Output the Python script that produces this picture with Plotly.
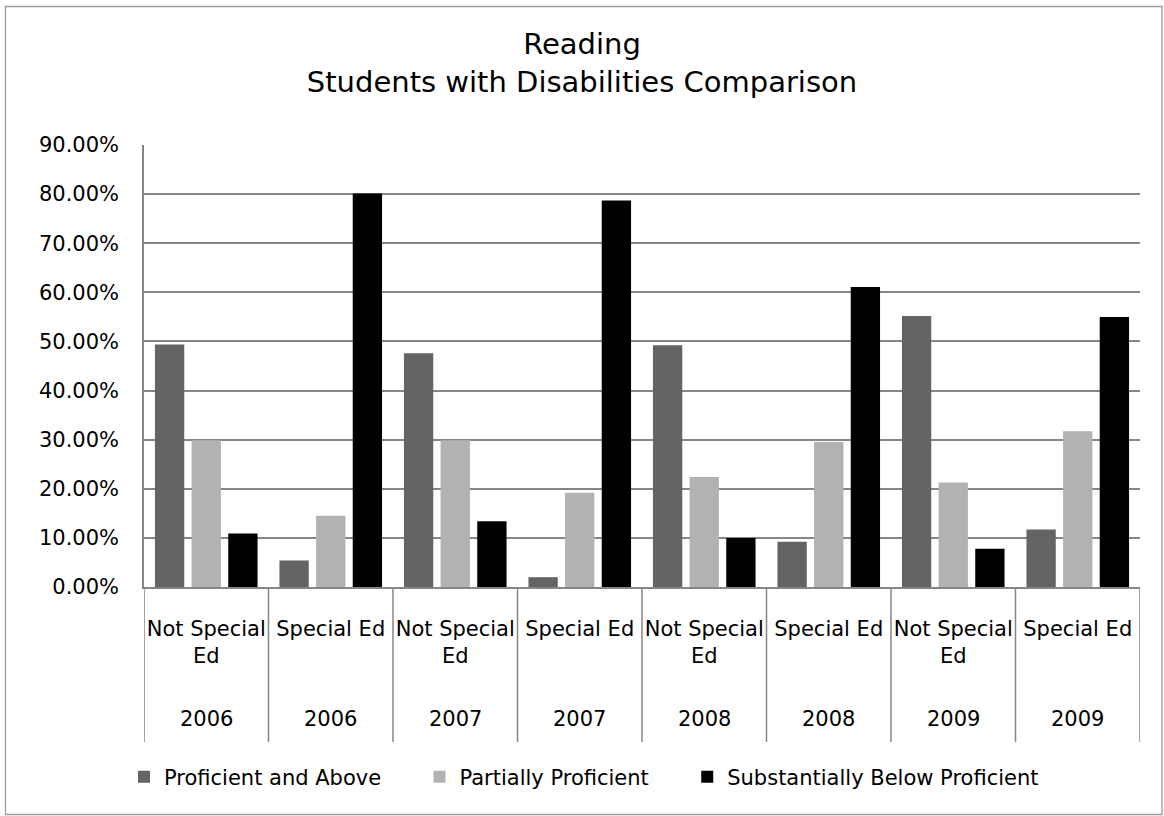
import plotly.graph_objects as go

# ---- data ----
groups = ["Not Special Ed", "Special Ed", "Not Special Ed", "Special Ed",
          "Not Special Ed", "Special Ed", "Not Special Ed", "Special Ed"]
group_labels = ["Not Special<br>Ed", "Special Ed", "Not Special<br>Ed", "Special Ed",
                "Not Special<br>Ed", "Special Ed", "Not Special<br>Ed", "Special Ed"]
years = ["2006", "2006", "2007", "2007", "2008", "2008", "2009", "2009"]

series_names = ["Proficient and Above", "Partially Proficient", "Substantially Below Proficient"]
proficient = [0.494, 0.054, 0.476, 0.020, 0.492, 0.092, 0.552, 0.117]
partial = [0.299, 0.145, 0.299, 0.192, 0.224, 0.295, 0.213, 0.317]
below = [0.109, 0.801, 0.134, 0.787, 0.100, 0.611, 0.078, 0.550]
series_values = [proficient, partial, below]
series_colors = ["#646464", "#b2b2b2", "#000000"]
legend_pad = [5, 5, 0]  # extra legend spacing (non-breaking spaces after the label)

y_ticks = [0, 0.1, 0.2, 0.3, 0.4, 0.5, 0.6, 0.7, 0.8, 0.9]

FONT = "DejaVu Sans"
idx = list(range(len(groups)))

fig = go.Figure()
for name, vals, col, pad in zip(series_names, series_values, series_colors, legend_pad):
    fig.add_trace(go.Bar(x=idx, y=vals, name=name + "\u00a0" * pad,
                         marker=dict(color=col, line=dict(width=0))))

W, H = 1164, 816
L, R, T, B = 144, 24, 145, 229
pw, ph = W - L - R, H - T - B

def px_x(p):
    return (p - L) / pw

def px_y(p):
    return (H - B - p) / ph

GRID = "#868686"
shapes = []
# category separators below the axis
for i in range(len(groups) + 1):
    shapes.append(dict(type="line", xref="x", yref="paper", x0=i - 0.5, x1=i - 0.5,
                       y0=0, y1=px_y(742), line=dict(color=GRID, width=1.5)))
# outer chart border
shapes.append(dict(type="rect", xref="paper", yref="paper",
                   x0=px_x(5.5), x1=px_x(1162), y0=px_y(6.5), y1=px_y(814.5),
                   line=dict(color="#9a9a9a", width=1.3), fillcolor="rgba(0,0,0,0)"))

annotations = []
for i, yr in enumerate(years):
    annotations.append(dict(x=i, y=px_y(719), xref="x", yref="paper", text=yr,
                            showarrow=False, font=dict(family=FONT, size=21, color="#000"),
                            xanchor="center", yanchor="middle"))

fig.update_layout(
    width=W, height=H,
    margin=dict(l=L, r=R, t=T, b=B),
    paper_bgcolor="white", plot_bgcolor="white",
    barmode="group", bargap=0.117, bargroupgap=0.2,
    title=dict(text="Reading<br>Students with Disabilities Comparison",
               x=0.5, xref="container", xanchor="center",
               y=1 - 54 / H, yref="container", yanchor="middle",
               font=dict(family=FONT, size=29, color="#000")),
    font=dict(family=FONT, size=21, color="#000"),
    xaxis=dict(range=[-0.5, len(groups) - 0.5], tickmode="array", tickvals=idx,
               ticktext=group_labels, showgrid=False, zeroline=False,
               showline=True, linecolor=GRID, linewidth=1.5,
               ticks="", ticklabelstandoff=22,
               tickfont=dict(family=FONT, size=21, color="#000")),
    yaxis=dict(range=[0, 0.9], tickmode="array", tickvals=y_ticks, tickformat=".2%",
               showgrid=True, gridcolor=GRID, gridwidth=1.5, zeroline=False,
               showline=True, linecolor=GRID, linewidth=1.5,
               ticks="", ticklabelstandoff=19,
               tickfont=dict(family=FONT, size=21, color="#000")),
    legend=dict(orientation="h", x=px_x(584), xanchor="center", y=px_y(777),
                yanchor="middle", font=dict(family=FONT, size=21, color="#000"),
                itemclick=False, itemsizing="constant"),
    shapes=shapes,
    annotations=annotations,
)

fig.write_html("out.html")
